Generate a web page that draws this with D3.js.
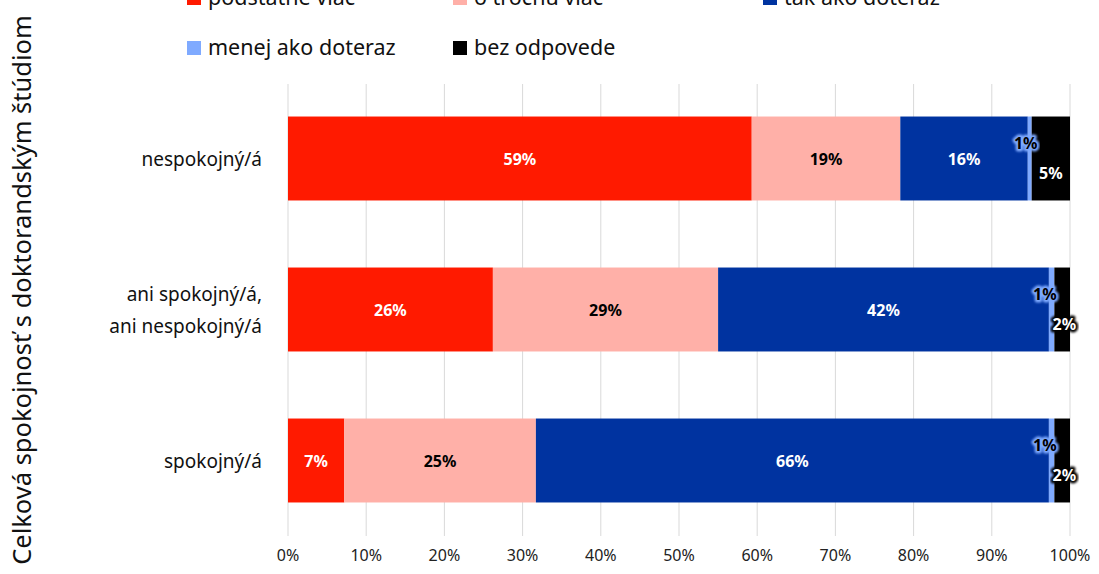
<!DOCTYPE html>
<html>
<head>
<meta charset="utf-8">
<script src="https://cdn.jsdelivr.net/npm/d3@7"></script>
<style>
  body { margin: 0; background: #fff; }
  text { font-family: "Noto Sans", "Open Sans", sans-serif; }
</style>
</head>
<body>
<div id="chart"></div>
<script>
// data
const categories = ["nespokojný/á", "ani spokojný/á,\nani nespokojný/á", "spokojný/á"];
const seriesNames = ["podstatne viac", "o trochu viac", "tak ako doteraz", "menej ako doteraz", "bez odpovede"];
const seriesColors = ["#FF1A00", "#FFB0A8", "#0033A0", "#7FAAFF", "#000000"];
const podstatneViac = [59.3, 26.2, 7.2];
const oTrochuViac = [19.0, 28.8, 24.5];
const takAkoDoteraz = [16.3, 42.3, 65.6];
const menejAkoDoteraz = [0.5, 0.7, 0.7];
const bezOdpovede = [4.9, 2.0, 2.0];
const valueLabels = [
  ["59%", "19%", "16%", "1%", "5%"],
  ["26%", "29%", "42%", "1%", "2%"],
  ["7%", "25%", "66%", "1%", "2%"]
];
const xTicks = [0, 10, 20, 30, 40, 50, 60, 70, 80, 90, 100];

const series = [podstatneViac, oTrochuViac, takAkoDoteraz, menejAkoDoteraz, bezOdpovede];
const labelFill = ["#fff", "#000", "#fff", "#000", "#fff"];

const width = 1099, height = 574;
const svg = d3.select("#chart").append("svg")
  .attr("width", width).attr("height", height);

const defs = svg.append("defs");
const blur = defs.append("filter").attr("id", "soft");
blur.append("feGaussianBlur").attr("stdDeviation", 1.2);

const x = d3.scaleLinear().domain([0, 100]).range([288, 1070]);
const y = d3.scaleBand().domain(categories).range([83, 536]).paddingInner(0.444).paddingOuter(0.222);

// gridlines
svg.append("g")
  .selectAll("line").data(xTicks).join("line")
  .attr("x1", d => x(d)).attr("x2", d => x(d))
  .attr("y1", 84).attr("y2", 536)
  .attr("stroke", "#d9d9d9").attr("stroke-width", 1);

// x axis tick labels
svg.append("g")
  .selectAll("text").data(xTicks).join("text")
  .attr("x", d => x(d)).attr("y", 561)
  .attr("text-anchor", "middle")
  .attr("font-size", 16).attr("fill", "#222")
  .text(d => d + "%");

// stacked bars
const rows = categories.map((c, i) => {
  let acc = 0;
  return series.map((s, j) => {
    const seg = { cat: c, row: i, j, x0: acc, x1: acc + s[i] };
    acc += s[i];
    return seg;
  });
});

const bars = svg.append("g");
rows.forEach(r => {
  bars.selectAll(null).data(r).join("rect")
    .attr("x", d => x(d.x0))
    .attr("y", d => y(d.cat))
    .attr("width", d => x(d.x1) - x(d.x0))
    .attr("height", y.bandwidth())
    .attr("fill", d => seriesColors[d.j]);
});

// value labels
const lab = svg.append("g").attr("font-weight", "bold").attr("font-size", 16);
rows.forEach((r, i) => {
  r.forEach(d => {
    const cy = y(d.cat) + y.bandwidth() / 2;
    let lx = (x(d.x0) + x(d.x1)) / 2;
    let ly = cy + 6;
    if (d.j === 3) { ly = cy - 10; lx = x(d.x0) - 2 + (i === 0 ? 0 : -2); }
    if (d.j === 4) {
      ly = cy + 20;
      lx = i === 0 ? lx : x(d.x0) + 10;
    }
    const txt = valueLabels[i][d.j];
    if (d.j >= 3) {
      const halo = d.j === 3 ? seriesColors[3] : "#000";
      lab.append("text")
        .attr("x", lx).attr("y", ly).attr("text-anchor", "middle")
        .attr("fill", halo).attr("stroke", halo).attr("stroke-width", 5)
        .attr("stroke-linejoin", "round").attr("filter", "url(#soft)")
        .text(txt);
    }
    lab.append("text")
      .attr("x", lx).attr("y", ly).attr("text-anchor", "middle")
      .attr("fill", labelFill[d.j])
      .text(txt);
  });
});

// category labels
const catG = svg.append("g").attr("font-size", 19).attr("fill", "#111");
categories.forEach(c => {
  const lines = c.split("\n");
  const cy = y(c) + y.bandwidth() / 2;
  lines.forEach((ln, k) => {
    catG.append("text")
      .attr("x", 262)
      .attr("y", cy + 7 + (k - (lines.length - 1) / 2) * 32)
      .attr("text-anchor", "end")
      .text(ln);
  });
});

// y axis title
svg.append("text")
  .attr("transform", "translate(31,290) rotate(-90)")
  .attr("text-anchor", "middle")
  .attr("font-size", 25.5).attr("fill", "#111")
  .text("Celková spokojnosť s doktorandským štúdiom");

// legend
const legendPos = [[187, 5], [453, 5], [763, 5], [187, 55], [453, 55]];
const leg = svg.append("g").attr("font-size", 21.5).attr("fill", "#111");
seriesNames.forEach((n, j) => {
  const [lx, ly] = legendPos[j];
  leg.append("rect").attr("x", lx).attr("y", ly - 14).attr("width", 14).attr("height", 14)
    .attr("fill", seriesColors[j]);
  leg.append("text").attr("x", lx + 21).attr("y", ly).text(n);
});
</script>
</body>
</html>
